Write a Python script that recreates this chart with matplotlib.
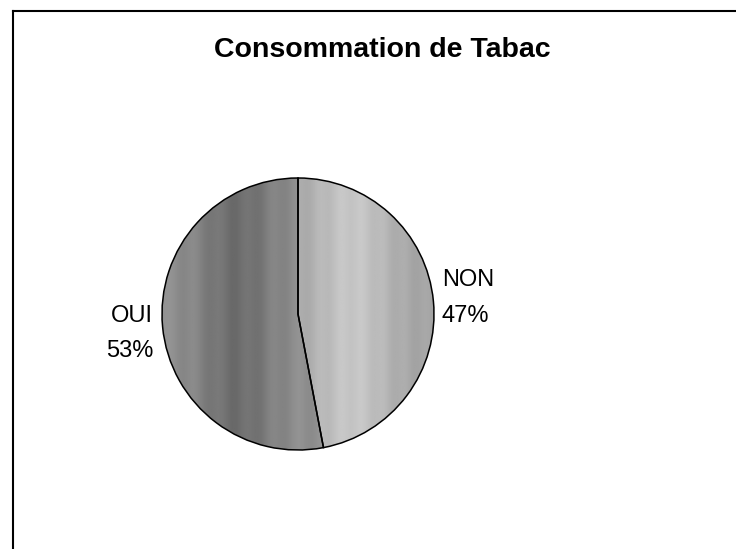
import numpy as np
import matplotlib
matplotlib.use("Agg")
import matplotlib.pyplot as plt
from matplotlib.lines import Line2D

# data
labels = ["NON", "OUI"]
shares = [47, 53]
title = "Consommation de Tabac"

plt.rcParams["font.family"] = ["Liberation Sans", "DejaVu Sans"]

W, H = 736, 549
fig = plt.figure(figsize=(W / 100, H / 100), dpi=100)

# pie centre (px) and radius (px)
cx, cy, R = 298, 314, 136
aw, ah = 460, 440
ax = fig.add_axes([(cx - aw / 2) / W, (H - cy - ah / 2) / H, aw / W, ah / H])
ax.axis("off")

wedges, _ = ax.pie(shares, startangle=90, counterclock=False, radius=1,
                   colors=["#b8b8b8", "#8c8c8c"],
                   wedgeprops=dict(edgecolor="black", linewidth=1.1))

# soft streaky grey texture, clipped to each wedge
xs = np.linspace(-1, 1, 400)
tex_non = 0.64 + 0.14 * np.exp(-((xs - 0.4) / 0.3) ** 2) + 0.015 * np.cos(xs * 40)
tex_oui = 0.57 - 0.14 * np.exp(-((xs + 0.45) / 0.3) ** 2) + 0.02 * np.cos(xs * 33)
for w, tex in zip(wedges, [tex_non, tex_oui]):
    im = ax.imshow(np.tile(tex, (10, 1)), cmap="gray", vmin=0, vmax=1,
                   extent=(-1, 1, -1, 1), aspect="auto", zorder=w.get_zorder() + 0.1)
    im.set_clip_path(w)
    w.set_facecolor("none")
    w.set_zorder(w.get_zorder() + 0.2)
ax.set_xlim(-aw / 2 / R, aw / 2 / R)
ax.set_ylim(-ah / 2 / R, ah / 2 / R)

# labels: name above, percentage below
fs = 17
ax.text((442 - cx) / R, (cy - 286) / R, labels[0], ha="left", va="baseline", fontsize=fs)
ax.text((442 - cx) / R, (cy - 322) / R, f"{shares[0]}%", ha="left", va="baseline", fontsize=fs)
ax.text((153 - cx) / R, (cy - 322) / R, labels[1], ha="right", va="baseline", fontsize=fs)
ax.text((153 - cx) / R, (cy - 357) / R, f"{shares[1]}%", ha="right", va="baseline", fontsize=fs)

fig.text(382 / W, 1 - 57 / H, title, ha="center", va="baseline",
         fontsize=20.5, fontweight="bold")

# chart frame (top and left edges visible)
fig.add_artist(Line2D([13 / W, 1], [1 - 11 / H, 1 - 11 / H], color="black", lw=1.5))
fig.add_artist(Line2D([13 / W, 13 / W], [0, 1 - 11 / H], color="black", lw=1.5))

fig.savefig("out.png", dpi=100)
